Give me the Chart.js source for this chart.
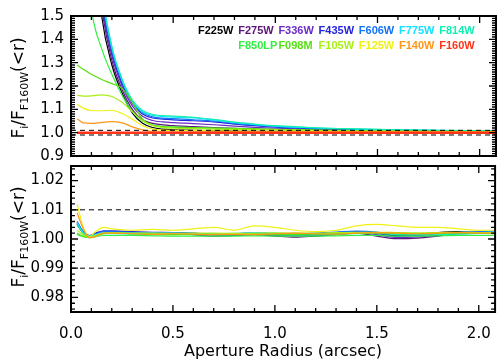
<!DOCTYPE html>
<html>
<head>
<meta charset="utf-8">
<script src="https://cdn.jsdelivr.net/npm/chart.js@4.4.1/dist/chart.umd.min.js"></script>
<style>
  html, body { margin: 0; padding: 0; background: #fff; }
  #wrap { position: relative; width: 504px; height: 360px; overflow: hidden; font-family: 'DejaVu Sans', sans-serif; }
  canvas { position: absolute; left: 0; }
  .ytitle { position: absolute; white-space: nowrap; font-size: 17px; line-height: 1; transform: translate(-50%, -50%) rotate(-90deg); }
  .ytitle sub { font-size: 11px; vertical-align: -4px; }
  .leg { position: absolute; font: bold 11px 'Liberation Sans', sans-serif; white-space: nowrap; line-height: 12px; }
</style>
</head>
<body>
<div id="wrap">
  <canvas id="cTop" width="504" height="172" style="top:0"></canvas>
  <canvas id="cBot" width="504" height="210" style="top:150px"></canvas>
  <div class="ytitle" style="left:20px;top:88px">F<sub>i</sub>/F<sub>F160W</sub>(&lt;r)</div>
  <div class="ytitle" style="left:20px;top:237px">F<sub>i</sub>/F<sub>F160W</sub>(&lt;r)</div>
</div>
<script>
// filters and their colours, in plotting order
const FILTERS = ['F225W', 'F275W', 'F336W', 'F435W', 'F606W', 'F775W', 'F814W',
                 'F850LP', 'F098M', 'F105W', 'F125W', 'F140W', 'F160W'];
const COLORS = ['#000000', '#5c1478', '#6a2cc4', '#2424e0', '#1474f4', '#14e0ff', '#10f0b0',
                '#30f040', '#58e014', '#a8f014', '#f0f014', '#ff9618', '#ff3418'];

const X_MAX = 2.08;
const X_TICKS = [0, 0.5, 1.0, 1.5, 2.0];
const TOP_Y_TICKS = [0.9, 1.0, 1.1, 1.2, 1.3, 1.4, 1.5];
const BOT_Y_TICKS = [0.98, 0.99, 1.00, 1.01, 1.02];
const REF_LEVELS = [0.99, 1.01];

// top panel: aperture radius (arcsec) and flux ratios
const R_TOP = [0.03, 0.06, 0.1, 0.15, 0.2, 0.25, 0.3, 0.35, 0.4, 0.45, 0.5, 0.6, 0.7, 0.8, 0.9, 1.0, 1.2, 1.4, 1.6, 1.8, 2.0, 2.08];
const topF225W  = [3.2, 2.6, 1.95, 1.50, 1.29, 1.17, 1.085, 1.04, 1.022, 1.015, 1.012, 1.010, 1.008, 1.007, 1.006, 1.005, 1.004, 1.004, 1.003, 1.003, 1.003, 1.003];
const topF275W  = [3.3, 2.7, 2.0, 1.54, 1.31, 1.185, 1.10, 1.055, 1.040, 1.033, 1.030, 1.026, 1.022, 1.018, 1.015, 1.013, 1.010, 1.008, 1.007, 1.006, 1.005, 1.005];
const topF336W  = [3.3, 2.7, 2.02, 1.56, 1.33, 1.20, 1.115, 1.07, 1.052, 1.046, 1.043, 1.039, 1.034, 1.028, 1.023, 1.019, 1.014, 1.011, 1.009, 1.007, 1.006, 1.006];
const topF435W  = [3.4, 2.8, 2.05, 1.58, 1.345, 1.21, 1.125, 1.08, 1.063, 1.058, 1.055, 1.051, 1.046, 1.037, 1.030, 1.024, 1.017, 1.013, 1.010, 1.008, 1.007, 1.007];
const topF606W  = [3.4, 2.8, 2.07, 1.59, 1.355, 1.22, 1.13, 1.085, 1.068, 1.062, 1.060, 1.055, 1.050, 1.040, 1.032, 1.026, 1.019, 1.014, 1.011, 1.009, 1.008, 1.008];
const topF775W  = [3.5, 2.85, 2.1, 1.61, 1.365, 1.225, 1.135, 1.09, 1.074, 1.069, 1.067, 1.063, 1.054, 1.043, 1.035, 1.028, 1.020, 1.015, 1.012, 1.010, 1.008, 1.008];
const topF814W  = [3.5, 2.9, 2.12, 1.62, 1.37, 1.23, 1.14, 1.095, 1.078, 1.073, 1.071, 1.066, 1.057, 1.045, 1.037, 1.030, 1.021, 1.016, 1.012, 1.010, 1.009, 1.009];
const topF850LP = [2.3, 1.9, 1.53, 1.36, 1.25, 1.16, 1.09, 1.05, 1.033, 1.026, 1.024, 1.021, 1.019, 1.017, 1.015, 1.013, 1.010, 1.008, 1.007, 1.006, 1.005, 1.005];
const topF098M  = [1.29, 1.272, 1.25, 1.228, 1.21, 1.19, 1.13, 1.058, 1.032, 1.026, 1.024, 1.022, 1.020, 1.018, 1.016, 1.014, 1.011, 1.009, 1.007, 1.006, 1.005, 1.005];
const topF105W  = [1.16, 1.157, 1.158, 1.162, 1.155, 1.13, 1.09, 1.052, 1.030, 1.022, 1.019, 1.017, 1.015, 1.014, 1.013, 1.012, 1.009, 1.007, 1.006, 1.005, 1.004, 1.004];
const topF125W  = [1.122, 1.105, 1.095, 1.094, 1.096, 1.082, 1.058, 1.030, 1.015, 1.011, 1.010, 1.009, 1.008, 1.007, 1.006, 1.006, 1.005, 1.004, 1.004, 1.003, 1.003, 1.003];
const topF140W  = [1.060, 1.042, 1.040, 1.044, 1.047, 1.042, 1.025, 1.012, 1.005, 1.003, 1.002, 1.002, 1.002, 1.002, 1.002, 1.002, 1.002, 1.002, 1.002, 1.002, 1.002, 1.002];
const topF160W  = [1.0, 1.0, 1.0, 1.0, 1.0, 1.0, 1.0, 1.0, 1.0, 1.0, 1.0, 1.0, 1.0, 1.0, 1.0, 1.0, 1.0, 1.0, 1.0, 1.0, 1.0, 1.0];
const TOP_SERIES = [topF225W, topF275W, topF336W, topF435W, topF606W, topF775W, topF814W,
                    topF850LP, topF098M, topF105W, topF125W, topF140W, topF160W];

// bottom panel (no F160W curve)
const R_BOT = [0.03, 0.06, 0.09, 0.12, 0.16, 0.2, 0.3, 0.4, 0.5, 0.6, 0.7, 0.8, 0.9, 1.0, 1.1, 1.2, 1.3, 1.4, 1.5, 1.6, 1.7, 1.8, 1.9, 2.0, 2.08];
const botF225W  = [1.0050, 1.0020, 1.0010, 1.0015, 1.0025, 1.0025, 1.0020, 1.0022, 1.0020, 1.0018, 1.0015, 1.0015, 1.0020, 1.0017, 1.0015, 1.0018, 1.0020, 1.0025, 1.0020, 1.0012, 1.0015, 1.0022, 1.0025, 1.0020, 1.0022];
const botF275W  = [1.0050, 1.0020, 1.0010, 1.0015, 1.0022, 1.0025, 1.0022, 1.0020, 1.0020, 1.0015, 1.0010, 1.0012, 1.0015, 1.0010, 1.0006, 1.0010, 1.0015, 1.0020, 1.0010, 1.0001, 1.0003, 1.0010, 1.0018, 1.0020, 1.0022];
const botF336W  = [1.0055, 1.0022, 1.0010, 1.0018, 1.0025, 1.0025, 1.0022, 1.0020, 1.0020, 1.0018, 1.0014, 1.0014, 1.0018, 1.0013, 1.0010, 1.0013, 1.0018, 1.0022, 1.0015, 1.0005, 1.0007, 1.0013, 1.0020, 1.0020, 1.0022];
const botF435W  = [1.0058, 1.0025, 1.0012, 1.0020, 1.0028, 1.0028, 1.0025, 1.0023, 1.0022, 1.0020, 1.0017, 1.0018, 1.0020, 1.0016, 1.0015, 1.0018, 1.0022, 1.0025, 1.0020, 1.0010, 1.0012, 1.0018, 1.0022, 1.0023, 1.0025];
const botF606W  = [1.0060, 1.0025, 1.0012, 1.0018, 1.0025, 1.0025, 1.0022, 1.0021, 1.0021, 1.0019, 1.0017, 1.0018, 1.0021, 1.0018, 1.0017, 1.0020, 1.0024, 1.0027, 1.0024, 1.0015, 1.0015, 1.0020, 1.0023, 1.0025, 1.0027];
const botF775W  = [1.0055, 1.0022, 1.0010, 1.0015, 1.0022, 1.0022, 1.0020, 1.0020, 1.0020, 1.0019, 1.0018, 1.0019, 1.0022, 1.0020, 1.0018, 1.0018, 1.0020, 1.0022, 1.0022, 1.0018, 1.0016, 1.0018, 1.0020, 1.0022, 1.0025];
const botF814W  = [1.0050, 1.0020, 1.0008, 1.0012, 1.0018, 1.0018, 1.0017, 1.0016, 1.0016, 1.0015, 1.0014, 1.0015, 1.0017, 1.0015, 1.0014, 1.0014, 1.0016, 1.0018, 1.0018, 1.0015, 1.0014, 1.0015, 1.0017, 1.0018, 1.0020];
const botF850LP = [1.0015, 1.0008, 1.0005, 1.0008, 1.0012, 1.0012, 1.0012, 1.0011, 1.0010, 1.0010, 1.0010, 1.0010, 1.0011, 1.0010, 1.0010, 1.0010, 1.0011, 1.0012, 1.0012, 1.0010, 1.0010, 1.0011, 1.0012, 1.0012, 1.0013];
const botF098M  = [1.0020, 1.0010, 1.0005, 1.0010, 1.0018, 1.0020, 1.0018, 1.0017, 1.0015, 1.0016, 1.0016, 1.0015, 1.0016, 1.0016, 1.0016, 1.0017, 1.0018, 1.0019, 1.0020, 1.0019, 1.0018, 1.0019, 1.0020, 1.0021, 1.0022];
const botF105W  = [1.0030, 1.0015, 1.0005, 1.0012, 1.0020, 1.0022, 1.0020, 1.0020, 1.0019, 1.0020, 1.0020, 1.0019, 1.0020, 1.0021, 1.0020, 1.0020, 1.0022, 1.0023, 1.0023, 1.0022, 1.0021, 1.0022, 1.0023, 1.0022, 1.0022];
const botF125W  = [1.0120, 1.0040, 1.0008, 1.0025, 1.0040, 1.0035, 1.0030, 1.0033, 1.0030, 1.0035, 1.0040, 1.0030, 1.0045, 1.0040, 1.0030, 1.0025, 1.0030, 1.0045, 1.0050, 1.0045, 1.0040, 1.0040, 1.0035, 1.0030, 1.0030];
const botF140W  = [1.0090, 1.0035, 1.0005, 1.0008, 1.0020, 1.0020, 1.0018, 1.0016, 1.0018, 1.0017, 1.0015, 1.0016, 1.0015, 1.0018, 1.0020, 1.0018, 1.0017, 1.0020, 1.0022, 1.0020, 1.0018, 1.0020, 1.0022, 1.0020, 1.0020];
const BOT_SERIES = [botF225W, botF275W, botF336W, botF435W, botF606W, botF775W, botF814W,
                    botF850LP, botF098M, botF105W, botF125W, botF140W];

Chart.defaults.color = '#000';
Chart.defaults.font.family = "'DejaVu Sans', sans-serif";

// IDL-style frame with inward ticks on all four sides
const idlFrame = {
  id: 'idlFrame',
  afterDatasetsDraw(chart, args, opts) {
    const { ctx, chartArea: a, scales: { x, y } } = chart;
    const marks = (scale, minor, every) => {
      const out = [];
      const n0 = Math.ceil(scale.min / minor - 1e-6), n1 = Math.floor(scale.max / minor + 1e-6);
      for (let n = n0; n <= n1; n++) out.push({ p: scale.getPixelForValue(n * minor), major: n % every === 0 });
      return out;
    };
    ctx.save();
    ctx.strokeStyle = '#000';
    ctx.lineWidth = 1.3;
    ctx.beginPath();
    for (const t of marks(x, opts.xMinor, opts.xEvery)) {
      const L = t.major ? 7 : 4;
      ctx.moveTo(t.p, a.bottom); ctx.lineTo(t.p, a.bottom - L);
      ctx.moveTo(t.p, a.top); ctx.lineTo(t.p, a.top + L);
    }
    for (const t of marks(y, opts.yMinor, opts.yEvery)) {
      const L = t.major ? 7 : 4;
      ctx.moveTo(a.left, t.p); ctx.lineTo(a.left + L, t.p);
      ctx.moveTo(a.right, t.p); ctx.lineTo(a.right - L, t.p);
    }
    ctx.stroke();
    ctx.lineWidth = 2;
    ctx.strokeRect(a.left, a.top, a.right - a.left, a.bottom - a.top);
    ctx.restore();
  }
};

function curveSets(xs, series, isTop) {
  const sets = series.map((vals, i) => ({
    data: vals.map((v, k) => ({ x: xs[k], y: v })),
    borderColor: COLORS[i],
    borderWidth: (isTop && FILTERS[i] === 'F160W') ? 2.5 : 1.2,
    pointRadius: 0,
    cubicInterpolationMode: 'monotone',
    order: series.length - i
  }));
  REF_LEVELS.forEach(lvl => sets.push({
    data: [{ x: 0, y: lvl }, { x: X_MAX, y: lvl }],
    borderColor: '#000', borderWidth: 1, borderDash: [5, 4], pointRadius: 0, order: -1
  }));
  return sets;
}

const fixedTicks = list => s => { s.ticks = list.map(v => ({ value: v })); };

const common = {
  responsive: false,
  animation: false,
  events: [],
  plugins: { legend: { display: false }, tooltip: { enabled: false } }
};

new Chart(document.getElementById('cTop'), {
  type: 'line',
  data: { datasets: curveSets(R_TOP, TOP_SERIES, true) },
  plugins: [idlFrame],
  options: {
    ...common,
    layout: { padding: { left: 0, right: 8, top: 11, bottom: 10 } },
    plugins: { ...common.plugins, idlFrame: { xMinor: 0.1, xEvery: 5, yMinor: 0.01, yEvery: 10 } },
    scales: {
      x: { type: 'linear', display: false, min: 0, max: X_MAX },
      y: {
        min: 0.9, max: 1.5,
        grid: { display: false, drawTicks: false },
        border: { display: false },
        afterFit: s => { s.width = 71; },
        afterBuildTicks: fixedTicks(TOP_Y_TICKS),
        ticks: { padding: 7, font: { size: 15 }, callback: v => v.toFixed(1) }
      }
    }
  }
});

new Chart(document.getElementById('cBot'), {
  type: 'line',
  data: { datasets: curveSets(R_BOT, BOT_SERIES, false) },
  plugins: [idlFrame],
  options: {
    ...common,
    layout: { padding: { left: 0, right: 8, top: 12, bottom: 0 } },
    plugins: { ...common.plugins, idlFrame: { xMinor: 0.1, xEvery: 5, yMinor: 0.002, yEvery: 5 } },
    scales: {
      x: {
        type: 'linear', min: 0, max: X_MAX,
        grid: { display: false, drawTicks: false },
        border: { display: false },
        afterFit: s => { s.height = 48; },
        afterBuildTicks: fixedTicks(X_TICKS),
        ticks: { autoSkip: false, maxRotation: 0, padding: 13,
                 font: { size: 15 }, callback: v => v.toFixed(1) },
        title: { display: true, text: 'Aperture Radius (arcsec)', font: { size: 16, lineHeight: 1 },
                 padding: { top: 0, bottom: 0 } }
      },
      y: {
        min: 0.975, max: 1.025,
        grid: { display: false, drawTicks: false },
        border: { display: false },
        afterFit: s => { s.width = 71; },
        afterBuildTicks: fixedTicks(BOT_Y_TICKS),
        ticks: { padding: 7, font: { size: 15 }, callback: v => v.toFixed(2) }
      }
    }
  }
});

// legend: two rows of coloured filter names
const wrap = document.getElementById('wrap');
FILTERS.forEach((name, i) => {
  const row = i < 7 ? 0 : 1;
  const col = i < 7 ? i : i - 6;
  const el = document.createElement('span');
  el.className = 'leg';
  el.textContent = name;
  el.style.color = COLORS[i];
  el.style.left = (198 + col * 40.2) + 'px';
  el.style.top = (24 + row * 15) + 'px';
  wrap.appendChild(el);
});
</script>
</body>
</html>
